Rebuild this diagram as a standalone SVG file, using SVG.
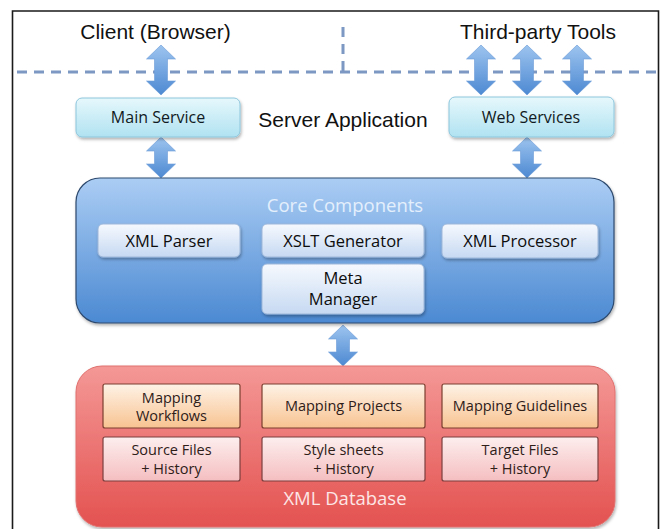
<svg xmlns="http://www.w3.org/2000/svg" width="662" height="529" viewBox="0 0 662 529">
  <defs>
    <linearGradient id="gSvc" x1="0" y1="0" x2="0" y2="1">
      <stop offset="0" stop-color="#e6f8fc"/>
      <stop offset="1" stop-color="#b0e2f1"/>
    </linearGradient>
    <linearGradient id="gCore" x1="0" y1="0" x2="0" y2="1">
      <stop offset="0" stop-color="#abcdf4"/>
      <stop offset="1" stop-color="#4b89d2"/>
    </linearGradient>
    <linearGradient id="gCoreItem" x1="0" y1="0" x2="0" y2="1">
      <stop offset="0" stop-color="#f6f9fe"/>
      <stop offset="1" stop-color="#c6d9f2"/>
    </linearGradient>
    <linearGradient id="gDb" x1="0" y1="0" x2="0" y2="1">
      <stop offset="0" stop-color="#f49896"/>
      <stop offset="1" stop-color="#e35250"/>
    </linearGradient>
    <linearGradient id="gMap" x1="0" y1="0" x2="0" y2="1">
      <stop offset="0" stop-color="#fef2e6"/>
      <stop offset="1" stop-color="#f8c391"/>
    </linearGradient>
    <linearGradient id="gFile" x1="0" y1="0" x2="0" y2="1">
      <stop offset="0" stop-color="#fdeeee"/>
      <stop offset="1" stop-color="#f5bec0"/>
    </linearGradient>
    <linearGradient id="gArrow" x1="0" y1="0" x2="0" y2="1">
      <stop offset="0" stop-color="#9dc4ef"/>
      <stop offset="1" stop-color="#4d89d2"/>
    </linearGradient>
    <filter id="shadow" x="-10%" y="-10%" width="120%" height="130%">
      <feDropShadow dx="1" dy="2" stdDeviation="1.5" flood-color="#000" flood-opacity="0.3"/>
    </filter>
    <!-- double-headed block arrows -->
    <path id="arrowLong" d="M0,0 L14.5,14 L6.5,14 L6.5,36 L14.5,36 L0,50 L-14.5,36 L-6.5,36 L-6.5,14 L-14.5,14 Z"/>
    <path id="arrowShort" d="M0,0 L14.5,14 L6.5,14 L6.5,27 L14.5,27 L0,41 L-14.5,27 L-6.5,27 L-6.5,14 L-14.5,14 Z"/>
  </defs>
  <style>
    .frame { fill: none; stroke: #1a1a1a; stroke-width: 1.6; }
    .boundary { fill: none; stroke: #7d98c2; stroke-width: 3; stroke-dasharray: 10 7; }
    .zone { font-family: "Liberation Sans", Arial, sans-serif; font-size: 21px; fill: #111; }
    .lbl { font-family: "Open Sans", "Noto Sans", sans-serif; text-anchor: middle; }
    .svc { fill: url(#gSvc); stroke: #8cc6dc; stroke-width: 1; filter: url(#shadow); }
    .svcText { font-size: 16px; fill: #111a22; }
    .core { fill: url(#gCore); stroke: #2e4a6e; stroke-width: 1.2; filter: url(#shadow); }
    .coreTitle { font-size: 18.5px; fill: #e4effc; }
    .coreItem { fill: url(#gCoreItem); stroke: #9db7d9; stroke-width: 1; filter: url(#shadow); }
    .coreText { font-size: 16.5px; fill: #0d0d0d; }
    .db { fill: url(#gDb); stroke: #e0706e; stroke-width: 1; filter: url(#shadow); }
    .dbTitle { font-size: 18.5px; fill: #fde6e6; }
    .map { fill: url(#gMap); stroke: #7c3f30; stroke-width: 1.2; }
    .file { fill: url(#gFile); stroke: #7c3f3f; stroke-width: 1.2; }
    .dbText { font-size: 14.5px; fill: #2e2019; }
    .arrow { fill: url(#gArrow); stroke: #6a9bd6; stroke-width: 0.6; }
  </style>

  <rect width="662" height="529" fill="#fff"/>

  <!-- outer frame -->
  <path class="frame" d="M12.5,529 L12.5,11 L658.5,11 L658.5,529"/>

  <!-- client / server boundary -->
  <line class="boundary" x1="17" y1="72" x2="658" y2="72"/>
  <line class="boundary" x1="343" y1="27" x2="343" y2="72"/>

  <text class="zone" x="155.5" y="39" text-anchor="middle">Client (Browser)</text>
  <text class="zone" x="538" y="39" text-anchor="middle">Third-party Tools</text>
  <text class="zone" x="343" y="127" text-anchor="middle">Server Application</text>

  <!-- connectors -->
  <g id="connectors">
    <use href="#arrowLong" class="arrow" transform="translate(161,45)"/>
    <use href="#arrowLong" class="arrow" transform="translate(481,45)"/>
    <use href="#arrowLong" class="arrow" transform="translate(527,45)"/>
    <use href="#arrowLong" class="arrow" transform="translate(577,45)"/>
    <use href="#arrowShort" class="arrow" transform="translate(161,137)"/>
    <use href="#arrowShort" class="arrow" transform="translate(527,137)"/>
    <use href="#arrowShort" class="arrow" transform="translate(343,325)"/>
  </g>

  <g id="main-service">
    <rect class="svc" x="76" y="98" width="164" height="39" rx="6"/>
    <text class="lbl svcText" x="158" y="123">Main Service</text>
  </g>

  <g id="web-services">
    <rect class="svc" x="449" y="97" width="165" height="40" rx="6"/>
    <text class="lbl svcText" x="531" y="123">Web Services</text>
  </g>

  <g id="core-components">
    <rect class="core" x="76" y="178" width="538" height="145" rx="24"/>
    <text class="lbl coreTitle" x="345" y="212">Core Components</text>
  </g>

  <g id="xml-parser">
    <rect class="coreItem" x="98" y="224" width="142" height="33" rx="5"/>
    <text class="lbl coreText" x="169" y="247">XML Parser</text>
  </g>

  <g id="xslt-generator">
    <rect class="coreItem" x="262" y="224" width="162" height="33" rx="5"/>
    <text class="lbl coreText" x="343" y="247">XSLT Generator</text>
  </g>

  <g id="xml-processor">
    <rect class="coreItem" x="442" y="224" width="156" height="34" rx="5"/>
    <text class="lbl coreText" x="520" y="247">XML Processor</text>
  </g>

  <g id="meta-manager">
    <rect class="coreItem" x="262" y="264" width="162" height="50" rx="5"/>
    <text class="lbl coreText" x="343" y="284">Meta</text>
    <text class="lbl coreText" x="343" y="305">Manager</text>
  </g>

  <g id="xml-database">
    <rect class="db" x="76" y="366" width="539" height="161" rx="26"/>
    <text class="lbl dbTitle" x="345" y="505">XML Database</text>
  </g>

  <g id="mapping-workflows">
    <rect class="map" x="103" y="384" width="137" height="44" rx="2"/>
    <text class="lbl dbText" x="171.5" y="403">Mapping</text>
    <text class="lbl dbText" x="171.5" y="421">Workflows</text>
  </g>

  <g id="mapping-projects">
    <rect class="map" x="262" y="384" width="163" height="44" rx="2"/>
    <text class="lbl dbText" x="343.5" y="411">Mapping Projects</text>
  </g>

  <g id="mapping-guidelines">
    <rect class="map" x="442" y="384" width="156" height="44" rx="2"/>
    <text class="lbl dbText" x="520" y="411">Mapping Guidelines</text>
  </g>

  <g id="source-files">
    <rect class="file" x="103" y="437" width="137" height="44" rx="2"/>
    <text class="lbl dbText" x="171.5" y="455">Source Files</text>
    <text class="lbl dbText" x="171.5" y="474">+ History</text>
  </g>

  <g id="style-sheets">
    <rect class="file" x="262" y="437" width="163" height="44" rx="2"/>
    <text class="lbl dbText" x="343.5" y="455">Style sheets</text>
    <text class="lbl dbText" x="343.5" y="474">+ History</text>
  </g>

  <g id="target-files">
    <rect class="file" x="442" y="437" width="156" height="44" rx="2"/>
    <text class="lbl dbText" x="520" y="455">Target Files</text>
    <text class="lbl dbText" x="520" y="474">+ History</text>
  </g>
</svg>
